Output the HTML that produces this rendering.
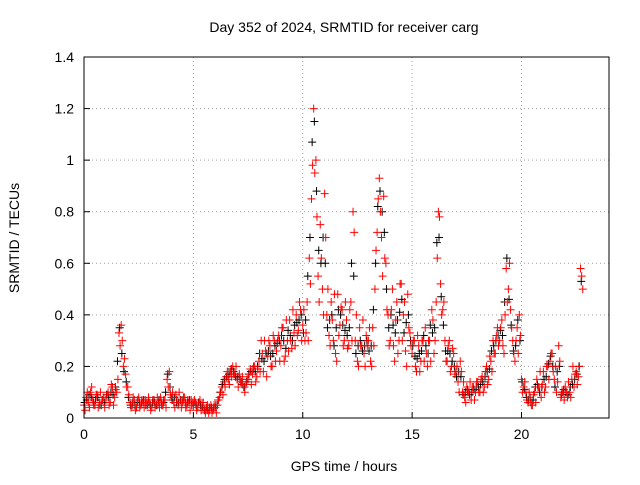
<!DOCTYPE html>
<html><head><meta charset="utf-8"><style>
body{margin:0;background:#fff;font-family:"Liberation Sans",sans-serif}
svg text{font-family:"Liberation Sans",sans-serif;font-size:14px;fill:#000}
</style></head><body>
<svg id="chart" width="640" height="480" xmlns="http://www.w3.org/2000/svg">
<rect width="640" height="480" fill="#fff"/>
<g id="grid"></g>
<g id="ticks"></g>
<g id="marks"></g>
<rect x="84" y="57" width="525" height="361" fill="none" stroke="#000" stroke-width="1"/>
<text x="344" y="32" text-anchor="middle">Day 352 of 2024, SRMTID for receiver carg</text>
<text x="344" y="471" text-anchor="middle">GPS time / hours</text>
<text transform="translate(19,238) rotate(-90)" text-anchor="middle">SRMTID / TECUs</text>
</svg>
<script>
const xTicks=[0,5,10,15,20];
const yTicks=[0,0.2,0.4,0.6,0.8,1,1.2,1.4];
const yTickLabels=["0","0.2","0.4","0.6","0.8","1","1.2","1.4"];
const redValues=[.05,.08,.06,.1,.07,.05,.09,.06,.05,.08,
.07,.1,.06,.12,.08,.1,.33,.36,.2,.17,
.12,.06,.05,.07,.04,.08,.05,.06,.07,.05,
.06,.04,.07,.05,.06,.08,.05,.07,.15,.18,
.08,.06,.09,.05,.07,.06,.08,.05,.06,.07,
.05,.06,.04,.07,.05,.03,.04,.02,.05,.03,
.04,.05,.08,.12,.14,.16,.15,.18,.2,.17,
.15,.17,.14,.12,.13,.15,.19,.17,.2,.16,
.22,.3,.18,.26,.24,.28,.2,.3,.26,.32,
.28,.35,.24,.3,.38,.27,.33,.4,.34,.42,
.36,.3,.45,.62,.85,1.2,1.0,.55,.75,.5,
.87,.4,.32,.45,.3,.25,.48,.36,.42,.3,
.38,.28,.45,.8,.3,.22,.35,.28,.25,.32,
.3,.22,.35,.5,.72,.93,.7,.86,.6,.4,
.3,.5,.22,.45,.3,.52,.4,.26,.48,.33,
.25,.3,.18,.28,.22,.3,.35,.2,.3,.42,
.25,.45,.8,.52,.42,.3,.22,.3,.2,.25,
.18,.14,.22,.1,.08,.12,.1,.07,.12,.1,
.14,.1,.16,.12,.2,.15,.22,.3,.25,.35,
.3,.38,.25,.58,.5,.42,.3,.22,.35,.4,
.15,.12,.1,.06,.08,.05,.1,.15,.12,.08,
.18,.12,.2,.22,.25,.15,.1,.28,.08,.1,
.12,.08,.1,.15,.12,.18,.16,.58,.5];
const redValues2=[.03,.1,.04,.12,.05,.09,.04,.1,.07,.04,
.09,.05,.13,.05,.11,.15,.28,.3,.23,.12,
.09,.04,.08,.03,.07,.04,.07,.04,.06,.08,
.03,.07,.04,.08,.04,.05,.07,.04,.12,.09,
.1,.04,.07,.1,.04,.08,.04,.07,.03,.06,
.07,.03,.06,.03,.06,.02,.05,.03,.02,.05,
.02,.07,.1,.09,.12,.18,.13,.16,.17,.2,
.12,.14,.16,.1,.15,.17,.13,.2,.14,.19,
.18,.25,.3,.16,.3,.2,.32,.22,.3,.22,
.35,.22,.38,.26,.3,.42,.28,.32,.45,.3,
.42,.33,.3,.52,.98,.95,.78,.45,.62,.4,
.7,.5,.28,.38,.48,.22,.32,.43,.28,.45,
.27,.42,.3,.72,.4,.2,.28,.38,.2,.28,
.35,.2,.28,.65,.85,.8,.55,.62,.42,.28,
.42,.28,.38,.25,.52,.3,.45,.2,.35,.28,
.3,.2,.32,.18,.3,.22,.25,.3,.22,.38,
.3,.62,.78,.4,.45,.22,.28,.18,.27,.17,
.2,.1,.18,.14,.06,.1,.14,.12,.07,.14,
.1,.15,.1,.18,.13,.24,.18,.25,.32,.28,
.35,.28,.4,.45,.6,.35,.25,.3,.25,.32,
.1,.14,.07,.1,.05,.09,.06,.12,.18,.13,
.1,.2,.15,.25,.18,.2,.14,.22,.1,.07,
.1,.14,.08,.2,.17,.13,.2,.55];
const blackValues=[.06,.07,.09,.08,.06,.07,.08,.05,.07,.06,
.09,.08,.1,.09,.12,.22,.35,.25,.18,.14,
.08,.05,.06,.05,.06,.06,.06,.07,.05,.06,
.05,.06,.06,.05,.07,.06,.06,.1,.17,.12,
.07,.08,.06,.06,.07,.07,.06,.06,.07,.05,
.06,.05,.06,.05,.04,.03,.03,.04,.04,.04,
.05,.07,.1,.13,.15,.16,.17,.19,.18,.16,
.16,.15,.13,.12,.14,.17,.18,.19,.18,.2,
.25,.23,.22,.25,.26,.24,.25,.28,.29,.3,
.32,.3,.27,.34,.32,.3,.36,.37,.38,.4,
.33,.38,.55,.7,1.07,1.15,.88,.65,.6,.7,
.6,.35,.38,.4,.28,.35,.42,.4,.36,.34,
.32,.35,.6,.55,.25,.28,.3,.26,.28,.3,
.26,.28,.42,.6,.82,.88,.8,.72,.5,.35,
.4,.36,.33,.38,.41,.46,.33,.37,.4,.3,
.28,.24,.23,.25,.26,.32,.28,.25,.36,.33,
.35,.68,.7,.47,.36,.26,.26,.25,.22,.2,
.16,.18,.16,.09,.1,.11,.09,.1,.11,.12,
.12,.13,.14,.16,.18,.19,.26,.28,.3,.32,
.34,.32,.45,.62,.46,.36,.26,.28,.38,.3,
.14,.11,.08,.07,.06,.07,.12,.13,.1,.12,
.15,.16,.21,.24,.2,.12,.18,.2,.09,.11,
.1,.09,.12,.13,.15,.17,.2,.53];
const timeStep=0.1;
const X0=84,X1=609,Y0=418,Y1=57,XMAX=24,YMAX=1.4;
function xs(v){return X0+(X1-X0)*v/XMAX;}
function ys(v){return Y0-(Y0-Y1)*v/YMAX;}
const NS="http://www.w3.org/2000/svg";
const grid=document.getElementById('grid'),ticks=document.getElementById('ticks'),marks=document.getElementById('marks');
function mk(tag,attrs,parent){const e=document.createElementNS(NS,tag);for(const k in attrs)e.setAttribute(k,attrs[k]);parent.appendChild(e);return e;}
xTicks.forEach(t=>{
 const x=xs(t);
 if(t>0){const g=mk('line',{x1:x,x2:x,y1:Y1,y2:Y0,stroke:'#a0a0a0','stroke-dasharray':'1,3'},grid);
 
 }
 const tl=mk('line',{x1:x,x2:x,y1:Y0,y2:Y0-6,stroke:'#000'},ticks);
 
 
 const tx=mk('text',{x:x,y:Y0+21,'text-anchor':'middle'},ticks);tx.textContent=String(t);
 
 
});
yTicks.forEach((t,i)=>{
 const y=ys(t);
 if(t>0&&t<YMAX){const g=mk('line',{x1:X0,x2:X1,y1:y,y2:y,stroke:'#a0a0a0','stroke-dasharray':'1,3'},grid);
 
 }
 const tl=mk('line',{x1:X0,x2:X0+6,y1:y,y2:y,stroke:'#000'},ticks);
 
 
 const tx=mk('text',{x:X0-10,y:y+5,'text-anchor':'end'},ticks);tx.textContent=yTickLabels[i];
 
 
});
function cross(v,t,color){
 const x=xs(t),y=ys(v);
 const p=mk('path',{d:`M${x-4},${y}H${x+4}M${x},${y-4}V${y+4}`,stroke:color,'stroke-width':1,fill:'none'},marks);
 
 
}
blackValues.forEach((v,i)=>cross(v,i*timeStep+0.03,'#000'));
redValues.forEach((v,i)=>cross(v,i*timeStep,'#f00'));
redValues2.forEach((v,i)=>cross(v,i*timeStep+0.05,'#f00'));
</script>
</body></html>
